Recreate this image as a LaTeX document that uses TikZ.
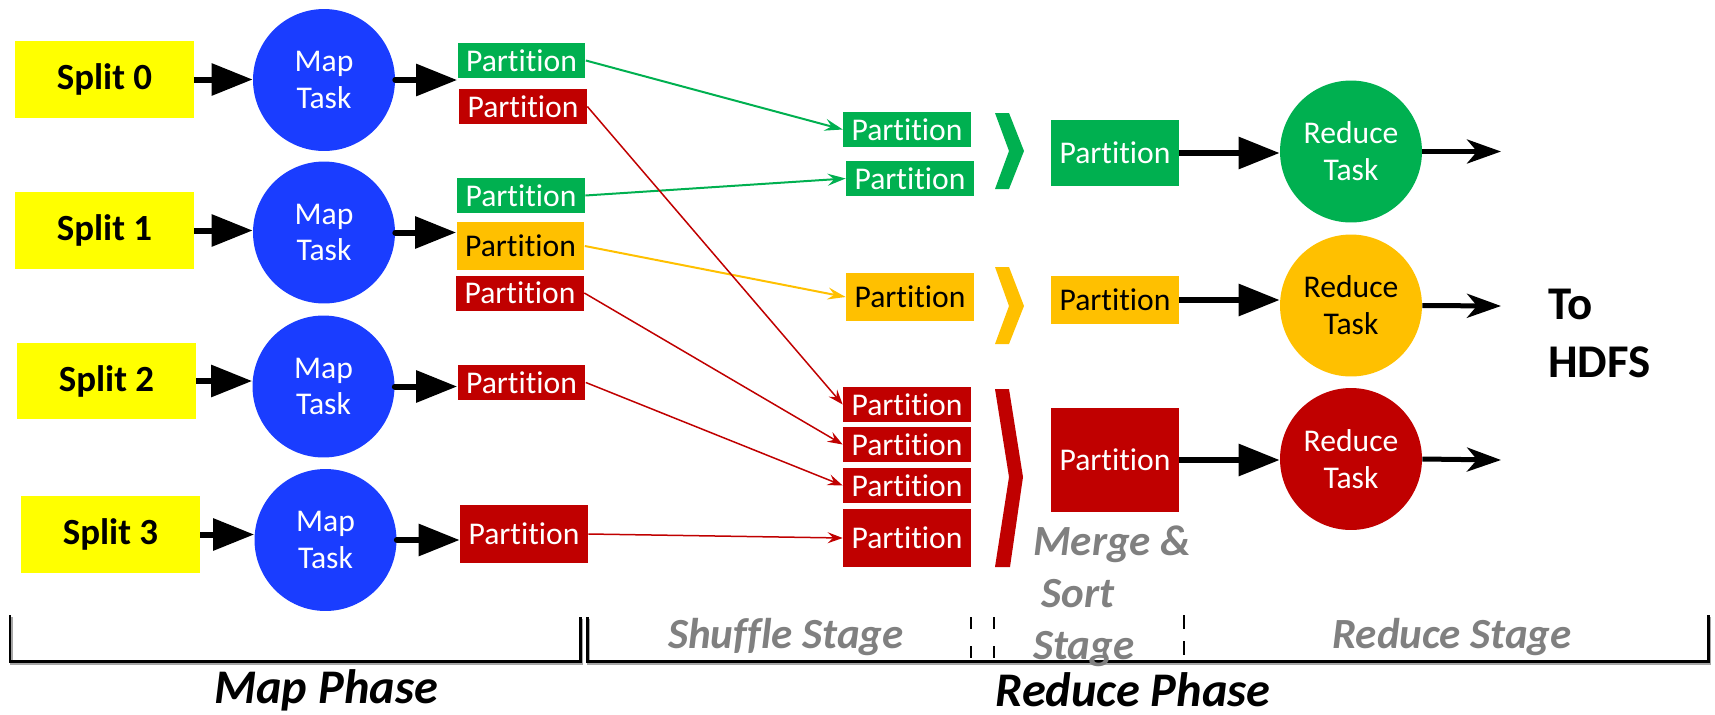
\documentclass[tikz,border=0pt]{standalone}
\usepackage{fontspec}
\setmainfont{Carlito}[Ligatures={NoCommon,NoRequired,NoContextual}]
\usepackage{xcolor}
\usepackage{tikz}
\usetikzlibrary{arrows.meta}
\pgfdeclarelayer{nodelayer}
\pgfdeclarelayer{edgelayer}
\pgfsetlayers{main,nodelayer,edgelayer}
\definecolor{splitYel}{HTML}{FFFF00}
\definecolor{mapBlue}{HTML}{1A3DFF}
\definecolor{redP}{HTML}{C00000}
\definecolor{greenP}{HTML}{00B050}
\definecolor{yelP}{HTML}{FFC000}
\definecolor{stageGray}{HTML}{808080}
\newcommand{\pfont}{\fontsize{18}{21}\selectfont}
\tikzstyle{split_box}=[rectangle, fill=splitYel, minimum width=3.58cm, minimum height=1.54cm, font=\fontsize{21}{25}\selectfont\bfseries]
\tikzstyle{task}=[circle, minimum size=2.84cm, inner sep=0pt, align=center, font=\pfont]
\tikzstyle{map_task}=[task, fill=mapBlue, text=white]
\tikzstyle{part}=[rectangle, minimum width=2.56cm, minimum height=0.7cm, inner sep=0pt, font=\pfont]
\tikzstyle{partG}=[part, fill=greenP, text=white]
\tikzstyle{partR}=[part, fill=redP, text=white]
\tikzstyle{partY}=[part, fill=yelP, text=black]
\tikzstyle{fatArrow}=[-{Triangle[length=0.82cm, width=0.62cm]}, line width=0.12cm, black]
\tikzstyle{outArrow}=[-{Stealth[length=0.68cm, width=0.48cm, inset=0.2cm]}, line width=0.1cm, black]
\tikzstyle{shufG}=[-{Stealth[length=0.36cm, width=0.24cm, inset=0.13cm]}, line width=0.04cm, greenP]
\tikzstyle{shufY}=[-{Stealth[length=0.36cm, width=0.24cm, inset=0.13cm]}, line width=0.04cm, yelP]
\tikzstyle{shufR}=[-{Stealth[length=0.3cm, width=0.22cm, inset=0.11cm]}, line width=0.03cm, redP]
\tikzstyle{brk}=[line width=0.06cm, black]
\tikzstyle{stage_lbl}=[inner sep=0pt, font=\fontsize{24.5}{29.6}\selectfont\bfseries\itshape, text=stageGray]
\tikzstyle{phase_lbl}=[inner sep=0pt, font=\fontsize{27.5}{30}\selectfont\bfseries\itshape]

\begin{document}
\begin{tikzpicture}[x=0.02cm, y=-0.02cm]
        \useasboundingbox (0,0) rectangle (1715,714);
        \begin{pgfonlayer}{nodelayer}
            %Map side
            \node [style=split_box] (S0) at (104.5, 79.5) {Split 0};
            \node [style=split_box] (S1) at (104.5, 230.5) {Split 1};
            \node [style=split_box] (S2) at (106.5, 381) {Split 2};
            \node [style=split_box] (S3) at (110.5, 534.5) {Split 3};
            \node [style=map_task] (M0) at (324, 80) {Map\\Task};
            \node [style=map_task] (M1) at (324, 232.5) {Map\\Task};
            \node [style=map_task] (M2) at (323.5, 386.5) {Map\\Task};
            \node [style=map_task] (M3) at (325.5, 540) {Map\\Task};
            \node [style=partG] (P0g) at (521.5, 60.5) {Partition};
            \node [style=partR] (P0r) at (523, 106.5) {Partition};
            \node [style=partG] (P1g) at (521, 195.5) {Partition};
            \node [style=partY, minimum height=0.96cm] (P1y) at (520.5, 246) {Partition};
            \node [style=partR] (P1r) at (520, 293) {Partition};
            \node [style=partR] (P2r) at (521.5, 382.5) {Partition};
            \node [style=partR, minimum height=1.16cm] (P3r) at (524, 534) {Partition};

            %Shuffle side
            \node [style=partG] (Ga) at (907, 129.5) {Partition};
            \node [style=partG] (Gb) at (910, 178.5) {Partition};
            \node [style=partY, minimum height=0.96cm] (Ym) at (910, 297) {Partition};
            \node [style=partR] (R1) at (907, 404.5) {Partition};
            \node [style=partR] (R2) at (907, 444.5) {Partition};
            \node [style=partR] (R3) at (907, 485.5) {Partition};
            \node [style=partR, minimum height=1.16cm] (R4) at (907, 538) {Partition};

            %Merge and reduce side
            \node [style=partG, minimum height=1.32cm] (GM) at (1115, 153) {Partition};
            \node [style=partY, minimum height=0.96cm] (YM) at (1115, 300) {Partition};
            \node [style=partR, minimum height=2.08cm] (RM) at (1115, 460) {Partition};
            \node [style=task, fill=greenP, text=white] (RG) at (1351, 151.5) {Reduce\\Task};
            \node [style=task, fill=yelP, text=black] (RY) at (1351, 305.5) {Reduce\\Task};
            \node [style=task, fill=redP, text=white] (RR) at (1351, 459) {Reduce\\Task};
            \coordinate (og) at (1501, 151.5);
            \coordinate (oy) at (1501, 306);
            \coordinate (or) at (1501, 460);
            \node [inner sep=0pt, anchor=north west, align=left, font=\fontsize{26.7}{33}\selectfont\bfseries] (hdfs) at (1548, 289) {To\\HDFS};
        \end{pgfonlayer}

        \begin{pgfonlayer}{edgelayer}
                \draw [style={fatArrow}] (S0.east) to (S0.east -| M0.west);
                \draw [style={fatArrow}] (S1.east) to (S1.east -| M1.west);
                \draw [style={fatArrow}] (S2.east) to (S2.east -| M2.west);
                \draw [style={fatArrow}] (S3.east) to (S3.east -| M3.west);
                \draw [style={fatArrow}, line cap=round] (M0.east) to (M0.east -| P0g.west);
                \draw [style={fatArrow}, line cap=round] (M1.east) to (M1.east -| P1y.west);
                \draw [style={fatArrow}, line cap=round] (M2.east) to (M2.east -| P2r.west);
                \draw [style={fatArrow}, line cap=round] (M3.east) to (M3.east -| P3r.west);

                \draw [style={shufG}] (P0g.east) to (Ga.west);
                \draw [style={shufG}] (P1g.east) to (Gb.west);
                \draw [style={shufY}] (P1y.east) to (Ym.west);
                \draw [style={shufR}] (P0r.east) to (R1.west);
                \draw [style={shufR}] (P1r.east) to (R2.west);
                \draw [style={shufR}] (P2r.east) to (R3.west);
                \draw [style={shufR}] (P3r.east) to (R4.west);

                \draw [style={fatArrow}] (GM.east) to (GM.east -| RG.west);
                \draw [style={fatArrow}] (YM.east) to (YM.east -| RY.west);
                \draw [style={fatArrow}] (RM.east) to (RM.east -| RR.west);
                \draw [style={outArrow}] (RG.east) to (og);
                \draw [style={outArrow}] (RY.east) to (oy);
                \draw [style={outArrow}] (RR.east) to (or);
        \end{pgfonlayer}

        %merge chevrons
        \fill [greenP] (995,113) -- (1009,113) -- (1024,151) -- (1009,189) -- (995,189) -- (1009,151) -- cycle;
        \fill [yelP] (995,267) -- (1009,267) -- (1024,306) -- (1009,344) -- (995,344) -- (1009,306) -- cycle;
        \fill [redP] (995,389) -- (1009,389) -- (1023,477) -- (1010,567) -- (995,567) -- (1009,477) -- cycle;

        %phase brackets
        \draw [brk, black!35, xshift=0.03cm, yshift=-0.04cm] (10,615) -- (10,661) -- (580,661) -- (580,617);
        \draw [brk, black!35, xshift=0.03cm, yshift=-0.04cm] (587,617) -- (587,661) -- (1708,661) -- (1708,615);
        \draw [brk] (10,615) -- (10,661) -- (580,661) -- (580,617);
        \draw [brk] (587,617) -- (587,661) -- (1708,661) -- (1708,615);
        \draw [line width=0.05cm, dash pattern=on 0.24cm off 0.34cm] (971,617) -- (971,661);
        \draw [line width=0.05cm, dash pattern=on 0.24cm off 0.34cm] (994,617) -- (994,661);
        \draw [line width=0.05cm, dash pattern=on 0.28cm off 0.24cm] (1184,615) -- (1184,661);

        \node [style=stage_lbl, anchor=base] (shuf) at (786, 648) {Shuffle Stage};
        \node [style=stage_lbl, anchor=north west, align=left] (merge) at (1033, 525) {Merge \&\\\hspace{0.16cm}Sort\\Stage};
        \node [style=stage_lbl, anchor=base] (redst) at (1452, 648) {Reduce Stage};
        \node [style=phase_lbl, anchor=base] (mapph) at (326, 703) {Map Phase};
        \node [style=phase_lbl, anchor=base] (redph) at (1133, 706) {Reduce Phase};
\end{tikzpicture}
\end{document}
